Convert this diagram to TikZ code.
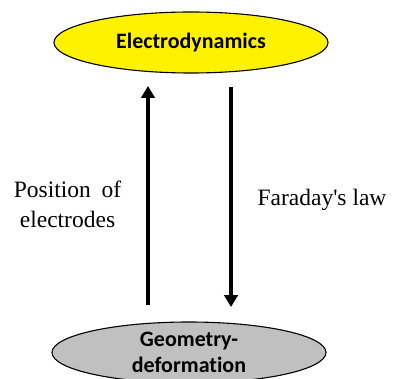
\documentclass[tikz,border=0pt]{standalone}
\usepackage{fontspec}
\setmainfont{Liberation Serif}[Ligatures=TeXOff]
\newfontfamily\calib[Ligatures={NoCommon}]{Carlito}
\usetikzlibrary{shapes.geometric,arrows.meta}
\definecolor{ellgray}{RGB}{192,192,192}
\tikzset{
  ell/.style={ellipse, draw=black, line width=1.1pt, minimum width=274pt, minimum height=61pt, inner sep=0pt, font=\calib\bfseries\fontsize{22}{26}\selectfont, align=center},
  bigarrow/.style={line width=4.6pt, -{Triangle[length=12pt,width=13.5pt]}},
  lbl/.style={font=\fontsize{23.5}{30}\selectfont, align=center, inner sep=0pt}
}
\begin{document}
\begin{tikzpicture}[x=1pt,y=-1pt]
\useasboundingbox (0,0) rectangle (396,379);
\begin{scope}
\clip (0,0) rectangle (396,379);
\node[ell, fill=yellow] (top) at (191,42.5) {Electrodynamics};
\node[ell, fill=ellgray] (bot) at (189,352.5) {Geometry-\\deformation};
\end{scope}
\coordinate (upS) at (148,305);
\coordinate (upE) at (148,86);
\coordinate (dnS) at (231,87);
\coordinate (dnE) at (231,307);
\draw[bigarrow] (upS) -- (upE);
\draw[bigarrow] (dnS) -- (dnE);
\node[lbl] (pos) at (67.5,204) {Position\hspace{0.45em}of\\electrodes};
\node[lbl] (far) at (322,200) {Faraday's law};
\end{tikzpicture}
\end{document}
